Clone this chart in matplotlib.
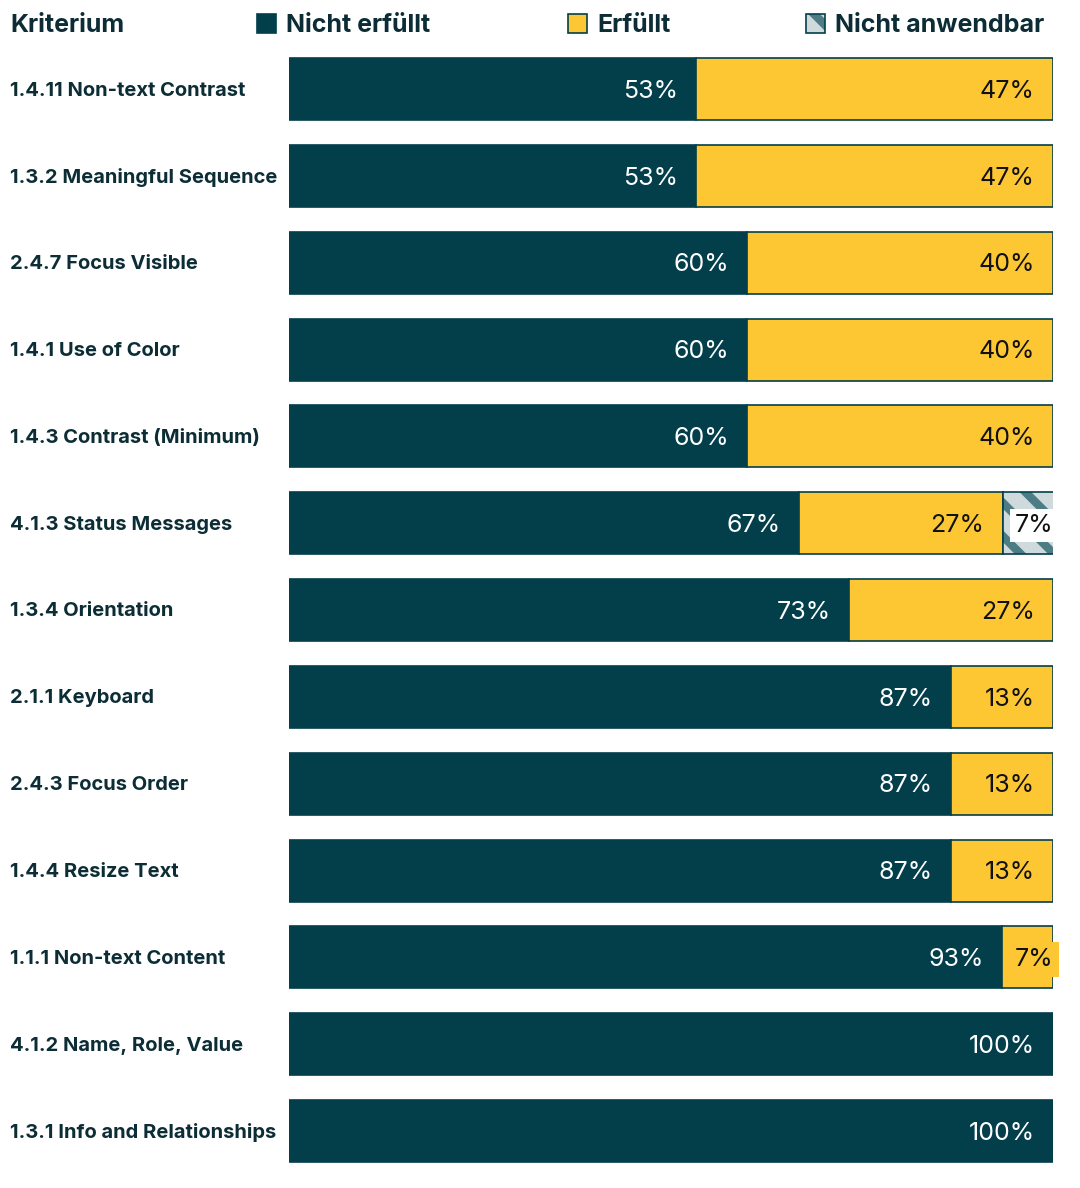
import matplotlib
matplotlib.use("Agg")
import matplotlib.pyplot as plt
import matplotlib.patches as patches

# --- data ---
kriterien = [
    "1.4.11 Non-text Contrast", "1.3.2 Meaningful Sequence", "2.4.7 Focus Visible",
    "1.4.1 Use of Color", "1.4.3 Contrast (Minimum)", "4.1.3 Status Messages",
    "1.3.4 Orientation", "2.1.1 Keyboard", "2.4.3 Focus Order", "1.4.4 Resize Text",
    "1.1.1 Non-text Content", "4.1.2 Name, Role, Value", "1.3.1 Info and Relationships",
]
nicht_erfuellt = [53.3, 53.3, 60.0, 60.0, 60.0, 66.7, 73.3, 86.7, 86.7, 86.7, 93.3, 100.0, 100.0]
erfuellt = [46.7, 46.7, 40.0, 40.0, 40.0, 26.7, 26.7, 13.3, 13.3, 13.3, 6.7, 0.0, 0.0]
nicht_anwendbar = [0, 0, 0, 0, 0, 6.7, 0, 0, 0, 0, 0, 0, 0]
legende = ["Nicht erfüllt", "Erfüllt", "Nicht anwendbar"]

# --- style ---
dunkel = "#023f4b"
text_dunkel = "#0c2d35"
gelb = "#fdc633"
hell = "#cfdadd"
streifen = "#4c7d85"
label_font = "Inter"
zahl_font = "Inter"
plt.rcParams["hatch.linewidth"] = 6

W, H = 1080, 1188
fig = plt.figure(figsize=(W / 100, H / 100), dpi=100, facecolor="white")

# Achse so legen, dass 0..100 auf die Balkenflaeche faellt
x0, x1 = 289, 1053
yc0, yc1 = 89, 1131
step = (yc1 - yc0) / (len(kriterien) - 1)
top = yc0 - step / 2
bottom = yc1 + step / 2
ax = fig.add_axes([x0 / W, 1 - bottom / H, (x1 - x0) / W, (bottom - top) / H])
ax.set_xlim(0, 100)
ax.set_ylim(len(kriterien) - 0.5, -0.5)
ax.axis("off")

bh = 62 / step
ys = list(range(len(kriterien)))
pad = 2.4  # in Prozentpunkten
zs = 18
dy = 0.025  # Textmitte leicht nach unten

for i, y in enumerate(ys):
    ne, er, na = nicht_erfuellt[i], erfuellt[i], nicht_anwendbar[i]
    ax.barh(y, ne, height=bh, left=0, color=dunkel, edgecolor=dunkel, linewidth=1.2)
    if er > 0:
        ax.barh(y, er, height=bh, left=ne, color=gelb, edgecolor=dunkel, linewidth=1.2)
    if na > 0:
        ax.barh(y, na, height=bh, left=ne + er, color=hell, edgecolor=streifen,
                linewidth=0, hatch="\\")
        ax.barh(y, na, height=bh, left=ne + er, fill=False, edgecolor=dunkel, linewidth=1.2)

    # Prozentwerte
    ax.text(ne - pad, y + dy, f"{ne:.0f}%", color="white", ha="right", va="center",
            fontsize=zs, family=zahl_font)
    if er > 0:
        if er < 10:
            ax.text(ne + er, y + dy, f"{er:.0f}%", color="#111111", ha="right", va="center",
                    fontsize=zs, family=zahl_font,
                    bbox=dict(boxstyle="square,pad=0.25", facecolor=gelb, edgecolor="none"))
        else:
            ax.text(ne + er - pad, y + dy, f"{er:.0f}%", color="#111111", ha="right",
                    va="center", fontsize=zs, family=zahl_font)
    if na > 0:
        ax.text(ne + er + na, y + dy, f"{na:.0f}%", color="#111111", ha="right", va="center",
                fontsize=zs, family=zahl_font,
                bbox=dict(boxstyle="square,pad=0.2", facecolor="white", edgecolor="none"))

    # Kriterium links
    fig.text(10 / W, 1 - (yc0 + 1.5 + i * step) / H, kriterien[i], color=text_dunkel,
             ha="left", va="center", fontsize=14.5, fontweight="bold", family=label_font)

# --- Kopfzeile ---
kopf_y = 1 - 26 / H
fig.text(10 / W, kopf_y, "Kriterium", color=text_dunkel, ha="left", va="center",
         fontsize=18, fontweight="bold", family=label_font)

legend_x = [257, 568, 806]
farben = [dunkel, gelb, hell]
for k, name in enumerate(legende):
    sx = legend_x[k]
    hatch = "\\" if k == 2 else None
    box = patches.Rectangle((sx / W, 1 - 33 / H), 19 / W, 19 / H, transform=fig.transFigure,
                            facecolor=farben[k], edgecolor=streifen if k == 2 else dunkel,
                            linewidth=0 if k == 2 else 1.2, hatch=hatch)
    fig.add_artist(box)
    if k == 2:
        fig.add_artist(patches.Rectangle((sx / W, 1 - 33 / H), 19 / W, 19 / H,
                                         transform=fig.transFigure, fill=False,
                                         edgecolor=dunkel, linewidth=1.2))
    fig.text((sx + 29) / W, kopf_y, name, color=text_dunkel, ha="left", va="center",
             fontsize=18, fontweight="bold", family=label_font)

fig.savefig("out.png", dpi=100, facecolor="white")
